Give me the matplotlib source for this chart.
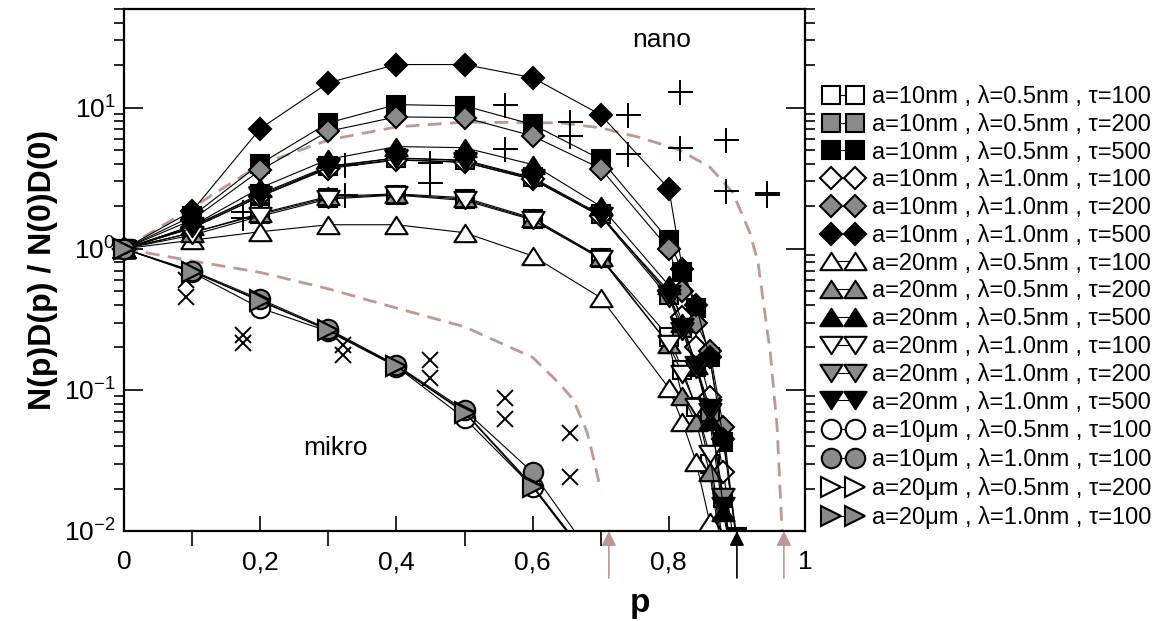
import matplotlib
matplotlib.use('Agg')
import matplotlib.pyplot as plt
import numpy as np
from matplotlib.path import Path
from matplotlib.ticker import FixedLocator, NullFormatter, FuncFormatter, LogLocator

plt.rcParams['font.family'] = ['Liberation Sans', 'DejaVu Sans']
plt.rcParams['mathtext.fontset'] = 'custom'
plt.rcParams['mathtext.rm'] = 'Liberation Sans'
plt.rcParams['mathtext.it'] = 'Liberation Sans:italic'
plt.rcParams['mathtext.bf'] = 'Liberation Sans:bold'
plt.rcParams['axes.unicode_minus'] = False

# p-Werte der Simulationen
p_nano = [0, 0.1, 0.2, 0.3, 0.4, 0.5, 0.6, 0.7, 0.8, 0.82, 0.84, 0.86, 0.88, 0.9]
p_mikro = [0, 0.1, 0.2, 0.3, 0.4, 0.5, 0.6, 0.7]

# nano-Serien (a, lambda, tau)
sq_open_100 = [1, 1.3, 1.75, 2.3, 2.42, 2.25, 1.62, 0.86, 0.238, 0.139, 0.076, 0.03, 0.007, 0.002]
sq_grey_200 = [1, 1.42, 2.45, 3.85, 4.4, 4.25, 3.2, 1.75, 0.47, 0.275, 0.146, 0.07, 0.017, 0.004]
sq_full_500 = [1, 1.7, 4.0, 7.8, 10.5, 10.3, 7.6, 4.3, 1.15, 0.69, 0.38, 0.17, 0.043, 0.009]
di_open_100 = [1, 1.4, 2.35, 3.7, 4.25, 4.1, 3.1, 1.7, 0.5, 0.33, 0.2, 0.089, 0.026, 0.006]
di_grey_200 = [1, 1.6, 3.6, 6.8, 8.6, 8.5, 6.3, 3.7, 1.0, 0.5, 0.3, 0.19, 0.055, 0.008]
di_full_500 = [1, 1.85, 7.1, 15.0, 20.2, 20.2, 16.3, 8.9, 2.67, 0.72, 0.4, 0.17, 0.045, 0.008]
tu_open_100 = [1, 1.15, 1.32, 1.48, 1.48, 1.3, 0.89, 0.45, 0.103, 0.059, 0.031, 0.0116, 0.003, 0.001]
tu_grey_200 = [1, 1.3, 1.78, 2.35, 2.45, 2.3, 1.65, 0.87, 0.21, 0.09, 0.059, 0.026, 0.006, 0.002]
tu_full_500 = [1, 1.45, 2.7, 4.3, 5.3, 5.2, 3.95, 2.0, 0.55, 0.3, 0.15, 0.06, 0.0136, 0.004]
td_open_100 = [1, 1.25, 1.7, 2.25, 2.4, 2.2, 1.6, 0.85, 0.21, 0.13, 0.076, 0.035, 0.008, 0.002]
td_grey_200 = [1, 1.4, 2.35, 3.75, 4.3, 4.1, 3.1, 1.7, 0.45, 0.26, 0.14, 0.07, 0.0174, 0.004]
td_full_500 = [1, 1.45, 2.4, 3.8, 4.4, 4.2, 3.15, 1.72, 0.48, 0.28, 0.15, 0.075, 0.015, 0.004]

# mikro-Serien
ci_open = [1, 0.68, 0.38, 0.26, 0.146, 0.063, 0.0205, 0.005]
ci_grey = [1, 0.7, 0.44, 0.27, 0.15, 0.072, 0.026, 0.0055]
tr_open = [1, 0.69, 0.43, 0.265, 0.148, 0.07, 0.021, 0.005]
tr_grey = [1, 0.69, 0.425, 0.265, 0.147, 0.069, 0.0205, 0.0048]

labels = ['a=10nm , λ=0.5nm , τ=100', 'a=10nm , λ=0.5nm , τ=200', 'a=10nm , λ=0.5nm , τ=500',
          'a=10nm , λ=1.0nm , τ=100', 'a=10nm , λ=1.0nm , τ=200', 'a=10nm , λ=1.0nm , τ=500',
          'a=20nm , λ=0.5nm , τ=100', 'a=20nm , λ=0.5nm , τ=200', 'a=20nm , λ=0.5nm , τ=500',
          'a=20nm , λ=1.0nm , τ=100', 'a=20nm , λ=1.0nm , τ=200', 'a=20nm , λ=1.0nm , τ=500',
          'a=10μm , λ=0.5nm , τ=100', 'a=10μm , λ=1.0nm , τ=100',
          'a=20μm , λ=0.5nm , τ=200', 'a=20μm , λ=1.0nm , τ=100']

# Messpunkte (Kreuze)
plus_p = [0.175, 0.175, 0.325, 0.325, 0.449, 0.449, 0.559, 0.559, 0.655, 0.655,
          0.74, 0.74, 0.816, 0.816, 0.884, 0.884, 0.944, 0.944]
plus_v = [1.83, 1.66, 3.95, 2.42, 4.07, 2.94, 10.5, 5.1, 7.9, 6.3,
          8.8, 4.7, 13.0, 5.2, 5.9, 2.58, 2.5, 2.4]
cross_p = [0.091, 0.091, 0.175, 0.175, 0.322, 0.322, 0.449, 0.449, 0.559, 0.559, 0.655, 0.655]
cross_v = [0.6, 0.457, 0.245, 0.215, 0.209, 0.177, 0.163, 0.122, 0.088, 0.062, 0.0495, 0.0242]

# Theoriekurven (gestrichelt)
up_p = [0, 0.1, 0.2, 0.3, 0.4, 0.5, 0.64, 0.7, 0.76, 0.816, 0.86, 0.894, 0.919, 0.931, 0.949, 0.959, 0.966, 0.97]
up_v = [1, 1.95, 3.95, 5.9, 7.3, 7.9, 7.8, 7.2, 6.1, 5.0, 3.8, 2.5, 1.3, 0.8, 0.183, 0.055, 0.0107, 0.005]
lo_p = [0, 0.1, 0.2, 0.3, 0.4, 0.5, 0.6, 0.64, 0.66, 0.68, 0.69, 0.70]
lo_v = [1, 0.82, 0.68, 0.52, 0.38, 0.28, 0.17, 0.11, 0.085, 0.05, 0.032, 0.0195]

# Pfeile (kritische p)
arrow_p = [0.712, 0.9, 0.969]
arrow_c = ['#c09696', 'black', '#c09696']

grey = '#8a8a8a'
rosy = '#c09696'

# Markerformen
tri_up = Path([(0, 0.78), (-1, -0.78), (1, -0.78), (0, 0.78)], closed=True)
tri_dn = Path([(0, -0.78), (-1, 0.78), (1, 0.78), (0, -0.78)], closed=True)

nano = [sq_open_100, sq_grey_200, sq_full_500, di_open_100, di_grey_200, di_full_500,
        tu_open_100, tu_grey_200, tu_full_500, td_open_100, td_grey_200, td_full_500]
mikro = [ci_open, ci_grey, tr_open, tr_grey]
marks = ['s'] * 3 + ['D'] * 3 + [tri_up] * 3 + [tri_dn] * 3 + ['o', 'o', '>', '>']
sizes = [13] * 3 + [11] * 3 + [16] * 6 + [14, 14, 14, 14]
faces = ['white', grey, 'black'] * 4 + ['white', grey, 'white', grey]

fig = plt.figure(figsize=(11.62, 6.21), dpi=100)
ax = fig.add_axes([124 / 1162, 90 / 621, 681 / 1162, 522 / 621])

ax.plot(up_p, up_v, '--', color=rosy, lw=2, dashes=(5, 3), zorder=1)
ax.plot(lo_p, lo_v, '--', color=rosy, lw=2, dashes=(5, 3), zorder=1)

ax.plot(plus_p, plus_v, ls='none', marker='+', ms=18, mew=1.4, color='black', zorder=2)
ax.plot(cross_p, cross_v, ls='none', marker='x', ms=12, mew=1.4, color='black', zorder=2)

handles = []
allser = nano + mikro
for i, v in enumerate(allser):
    pp = p_nano if i < 12 else p_mikro
    h, = ax.plot(pp, v, color='black', lw=0.8, marker=marks[i], ms=sizes[i],
                 mfc=faces[i], mec='black', mew=1.5, zorder=3)
    ax.plot(pp[:1], v[:1], ls='none', marker=marks[i], ms=sizes[i],
            mfc=faces[i], mec='black', mew=1.5, zorder=3, clip_on=False)
    handles.append(h)

ax.set_xlim(0, 1)
ax.set_yscale('log')
ax.set_ylim(0.01, 50)

ax.xaxis.set_major_locator(FixedLocator([0, 0.2, 0.4, 0.6, 0.8, 1.0]))
ax.xaxis.set_minor_locator(FixedLocator([0.1, 0.3, 0.5, 0.7, 0.9]))
ax.xaxis.set_major_formatter(FuncFormatter(lambda x, pos: ('%g' % round(x, 1)).replace('.', ',')))
ax.yaxis.set_major_locator(FixedLocator([0.01, 0.1, 1, 10]))
ax.yaxis.set_minor_locator(LogLocator(base=10, subs=np.arange(2, 10), numticks=20))
ax.yaxis.set_minor_formatter(NullFormatter())
ax.yaxis.set_major_formatter(FuncFormatter(lambda y, pos: r'$10^{%d}$' % round(np.log10(y))))

ax.tick_params(axis='both', which='major', direction='in', labelsize=19, width=1.2)
ax.tick_params(axis='x', which='both', length=11, top=False, pad=14)
ax.tick_params(axis='x', which='minor', width=1.2)
ax.tick_params(axis='y', which='major', length=14, right=True, pad=6)
ax.tick_params(axis='y', which='minor', length=7, right=True, width=1.2)
for s in ax.spines.values():
    s.set_linewidth(1.6)

ax.set_ylabel('N(p)D(p) / N(0)D(0)', fontsize=23, fontweight='bold', labelpad=4)
ax.set_xlabel('p', fontsize=24, fontweight='bold')
ax.xaxis.set_label_coords(0.758, -0.11)

ax.text(0.79, 30, 'nano', fontsize=19, ha='center', va='center')
ax.text(0.311, 0.039, 'mikro', fontsize=19, ha='center', va='center')

for xp, c in zip(arrow_p, arrow_c):
    ax.annotate('', xy=(xp, 0), xycoords=('data', 'axes fraction'),
                xytext=(xp, -0.09), textcoords=('data', 'axes fraction'),
                arrowprops=dict(arrowstyle='-|>', mutation_scale=22, color=c, lw=1.2,
                                shrinkA=0, shrinkB=0))

fig.legend(handles, labels, loc='upper left', bbox_to_anchor=(824 / 1162, 1 - 86 / 621),
           frameon=False, fontsize=17, handlelength=1.6, handletextpad=0.45,
           labelspacing=0.245, borderpad=0, borderaxespad=0, numpoints=2)

plt.savefig('out.png', dpi=100)
